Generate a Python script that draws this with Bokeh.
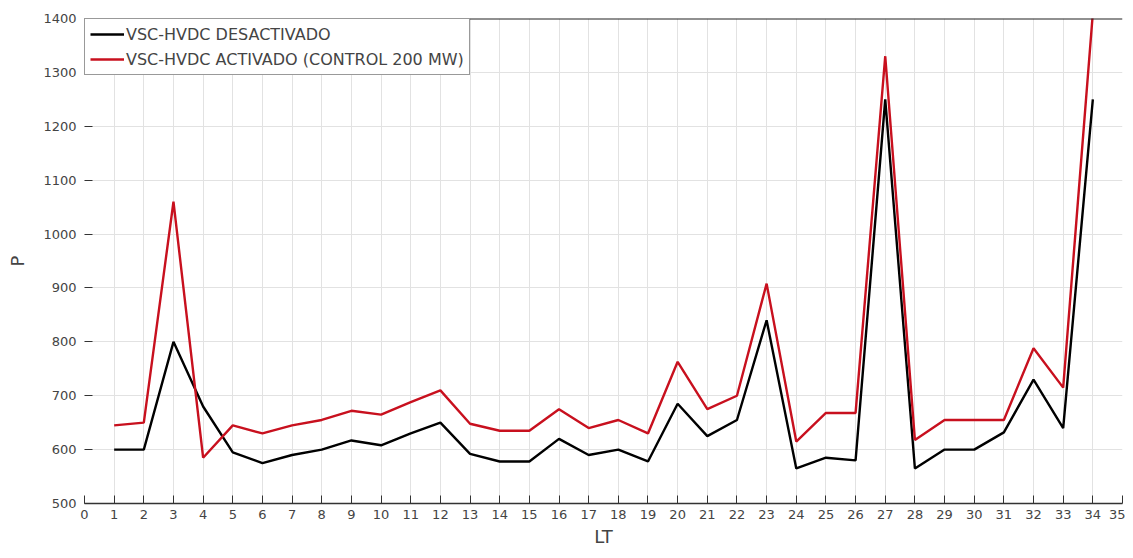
from bokeh.plotting import figure
from bokeh.models import Range1d, FixedTicker, Legend, LegendItem, Span
from bokeh.embed import file_html
from bokeh.resources import INLINE

lt = list(range(1, 35))
p_off = [600, 600, 800, 680, 595, 575, 590, 600, 617, 608, 630, 650, 592, 578, 578, 620, 590, 600,
         578, 685, 625, 655, 840, 565, 585, 580, 1250, 565, 600, 600, 632, 730, 640, 1250]
p_on = [645, 650, 1060, 585, 645, 630, 645, 655, 672, 665, 688, 710, 648, 635, 635, 675, 640, 655,
        630, 763, 675, 700, 908, 615, 668, 668, 1330, 618, 655, 655, 655, 788, 715, 1410]
x_ticks = list(range(0, 36))
y_ticks = list(range(500, 1401, 100))
labels = ["VSC-HVDC DESACTIVADO", "VSC-HVDC ACTIVADO (CONTROL 200 MW)"]

FONT = "DejaVu Sans"

p = figure(width=1125, height=550, output_backend="svg", toolbar_location=None,
           x_range=Range1d(0, 35), y_range=Range1d(500, 1400),
           min_border_left=84, min_border_right=3, min_border_top=18, min_border_bottom=47)

p.outline_line_color = None

for ax in (p.xaxis[0], p.yaxis[0]):
    ax.major_tick_in = 8
    ax.major_tick_out = 0
    ax.major_tick_line_color = "#333333"
    ax.minor_tick_line_color = None
    ax.major_label_text_font = FONT
    ax.major_label_text_font_size = "13px"
    ax.major_label_text_color = "#444444"
    ax.axis_label_text_font = FONT
    ax.axis_label_text_font_style = "normal"
    ax.axis_label_text_font_size = "18px"
    ax.axis_label_text_color = "#444444"

p.xaxis.axis_line_color = "#333333"
p.xaxis.axis_line_width = 1.5
p.yaxis.axis_line_color = None
p.xaxis.major_label_standoff = 6
p.yaxis.major_label_standoff = 8

p.xaxis.ticker = FixedTicker(ticks=x_ticks)
p.yaxis.ticker = FixedTicker(ticks=y_ticks)
p.xaxis.axis_label = "LT"
p.yaxis.axis_label = "P"
p.xaxis.axis_label_standoff = 4
p.yaxis.axis_label_standoff = 12

p.xgrid.ticker = FixedTicker(ticks=x_ticks)
p.ygrid.ticker = FixedTicker(ticks=y_ticks)
p.grid.grid_line_color = "#e2e2e2"
p.grid.grid_line_width = 1

r1 = p.line(lt, p_off, line_color="black", line_width=2.4)
r2 = p.line(lt, p_on, line_color="#c8101e", line_width=2.4)

legend = Legend(items=[LegendItem(label=labels[0], renderers=[r1]),
                       LegendItem(label=labels[1], renderers=[r2])],
                location="top_left", margin=0, padding=5, spacing=5,
                glyph_width=34, glyph_height=20, label_height=20,
                label_text_font=FONT, label_text_font_size="16px",
                label_text_color="#444444", label_standoff=2,
                border_line_color="#333333", border_line_width=1,
                background_fill_color="white", background_fill_alpha=1)
p.add_layout(legend)

top_line = Span(location=1400, dimension="width", line_color="#222222", line_width=2, level="overlay")
p.add_layout(top_line)

open("out.html", "w").write(file_html(p, INLINE))
